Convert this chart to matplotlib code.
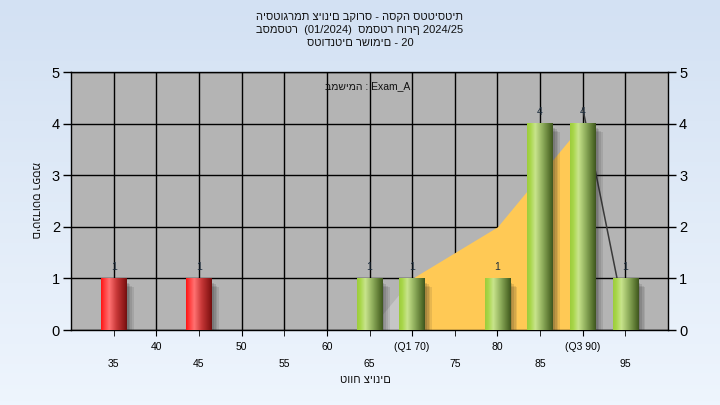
import matplotlib
matplotlib.use("Agg")
import matplotlib.pyplot as plt
from matplotlib.colors import to_rgb
import numpy as np

plt.rcParams['font.family'] = ['Liberation Sans', 'DejaVu Sans']

# data
grades = [35, 40, 45, 50, 55, 60, 65, 70, 75, 80, 85, 90, 95]
grade_labels = ["35", "40", "45", "50", "55", "60", "65", "(Q1 70)", "75", "80", "85", "(Q3 90)", "95"]
counts = [1, 0, 1, 0, 0, 0, 1, 1, 0, 1, 4, 4, 1]
pass_grade = 55

# yellow area (Q1..Q3), gray lead-in and tail line
area_x = [70, 75, 80, 85, 90]
area_y = [1, 1.5, 2, 3, 4]
lead_x = [65, 70]
lead_y = [0, 1]
tail_x = [90, 95]
tail_y = [4.3, 0.2]

title_lines = ["היסטוגרמת ציונים בקורס - הסקה סטטיסטית",
               "בסמסטר  (01/2024)  סמסטר חורף 2024/25",
               "סטודנטים רשומים - 20"]
task_text = "במשימה : Exam_A"
xlabel = "טווח ציונים"
ylabel = "מספר סטודנטים"


def grad_img(stops):
    xs = np.linspace(0, 1, 64)
    pos = [s[0] for s in stops]
    cols = np.array([to_rgb(s[1]) for s in stops])
    img = np.stack([np.interp(xs, pos, cols[:, k]) for k in range(3)], axis=-1)
    return img[np.newaxis, :, :]


green = grad_img([(0, "#9ccc3c"), (0.12, "#a8d648"), (0.32, "#c8e48c"),
                  (0.6, "#8fae5c"), (0.92, "#4f6a28"), (1, "#3f5520")])
red = grad_img([(0, "#ff1414"), (0.12, "#ff3a3a"), (0.32, "#ff7272"),
                (0.6, "#c83838"), (0.92, "#8a1616"), (1, "#701010")])

fig = plt.figure(figsize=(7.2, 4.05), dpi=100)

bg = fig.add_axes([0, 0, 1, 1], zorder=-10)
vgrad = np.linspace(0, 1, 100)[:, None, None] * (np.array(to_rgb("#eef5fd")) - np.array(to_rgb("#d3e1f3"))) + np.array(to_rgb("#d3e1f3"))
bg.imshow(vgrad, aspect='auto', extent=[0, 1, 0, 1], origin='upper')
bg.axis('off')

ax = fig.add_axes([71 / 720, 75 / 405, 597 / 720, 258 / 405])
ax.set_facecolor('#b4b4b4')

pos = {g: i for i, g in enumerate(grades)}

def to_idx(vals):
    return [pos[v] for v in vals]

ax.fill_between(to_idx(lead_x), lead_y, color='#c6c6c6', zorder=1, lw=0)
ax.fill_between(to_idx(area_x), area_y, color='#ffc955', zorder=1.2, lw=0)
ax.plot(to_idx(tail_x), tail_y, color='#3a3a3a', lw=1.1, zorder=1.3)

w = 0.6
for i, (g, c) in enumerate(zip(grades, counts)):
    if c == 0:
        continue
    # soft shadow
    for k, a in enumerate([0.10, 0.10, 0.12, 0.14]):
        off = 0.05 + 0.04 * (3 - k)
        ax.add_patch(plt.Rectangle((i - w / 2 + off, -0.06), w, c - 0.02 - 0.03 * (3 - k),
                                   color='#202020', alpha=a, lw=0, zorder=2))
    img = red if g < pass_grade else green
    ax.imshow(img, aspect='auto', extent=(i - w / 2, i + w / 2, 0, c),
              interpolation='bilinear', zorder=3)
    ax.text(i, c + 0.12, str(c), ha='center', va='bottom', fontsize=7.5,
            color='#1c2c3c', zorder=4)

ax.set_xlim(-1, len(grades))
ax.set_ylim(0, 5)
ax.set_yticks(range(6))
odd = [i for i in range(len(grades)) if i % 2 == 1]
even = [i for i in range(len(grades)) if i % 2 == 0]
ax.set_xticks(odd)
ax.set_xticklabels([grade_labels[i] for i in odd])
ax.set_xticks(even, minor=True)
ax.set_xticklabels([grade_labels[i] for i in even], minor=True)

ax.grid(which='both', color='black', lw=1)
ax.set_axisbelow(True)
ax.tick_params(axis='x', which='major', length=4, pad=5, labelsize=7.5, color='black')
ax.tick_params(axis='x', which='minor', length=4, pad=17, labelsize=7.5, color='black')
ax.tick_params(axis='y', length=6, width=1, pad=2, labelsize=10.5, left=True, right=True,
               labelleft=True, labelright=True)
for s in ax.spines.values():
    s.set_color('black')
    s.set_linewidth(1)

ax.text(0.497, 0.946, task_text, transform=ax.transAxes, ha='center', va='center',
        fontsize=7.5, color='#111111')

for k, line in enumerate(title_lines):
    fig.text(0.5, 1 - (17 + 13 * k) / 405, line, ha='center', va='center', fontsize=8,
             color='#111111')
fig.text(365 / 720, 1 - 380 / 405, xlabel, ha='center', va='center', fontsize=8, color='#111111')
fig.text(35 / 720, 1 - 200 / 405, ylabel, ha='center', va='center', fontsize=8,
         rotation=270, color='#111111')

fig.savefig("out.png", dpi=100)
